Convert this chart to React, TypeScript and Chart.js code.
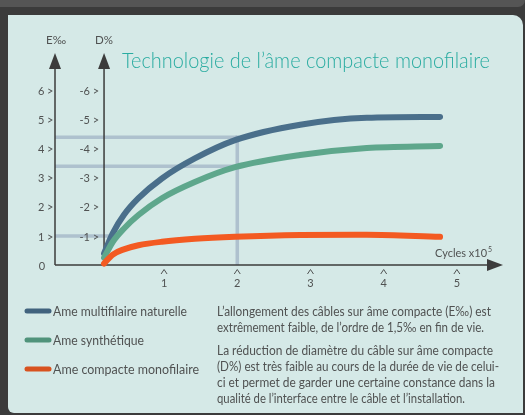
import React, { useEffect, useRef } from "react";
import { Chart, registerables } from "chart.js";

Chart.register(...registerables);

// ---------- data ----------
const TITLE = "Technologie de l’âme compacte monofilaire";
const SERIES_NAMES = ["Ame multifilaire naturelle", "Ame synthétique", "Ame compacte monofilaire"];
const CYCLES = [0.18, 0.3, 0.45, 0.65, 0.97, 1.42, 1.97, 2.86, 3.77, 4.77];
const MULTIFILAIRE = [0.4, 1.1, 1.72, 2.3, 2.98, 3.67, 4.3, 4.83, 5.07, 5.1];
const SYNTHETIQUE = [0.25, 0.8, 1.25, 1.72, 2.3, 2.86, 3.37, 3.79, 4.03, 4.1];
const COMPACTE = [0.05, 0.36, 0.54, 0.68, 0.8, 0.9, 0.97, 1.03, 1.04, 0.97];
const Y_TICKS = [1, 2, 3, 4, 5, 6];
const X_TICKS = [1, 2, 3, 4, 5];
const GUIDE_LEVELS = [4.4, 3.4, 1];
const GUIDE_ENDS = [2, 2, 0.26];
const D_AXIS_AT = 0.18;
const E_AXIS_LABEL = "E‰";
const D_AXIS_LABEL = "D%";
const X_AXIS_LABEL = "Cycles x10";
const X_AXIS_EXP = "5";
const NOTE_1 = [
  "L’allongement des câbles sur âme compacte (E‰) est",
  "extrêmement faible, de l’ordre de 1,5‰ en fin de vie.",
];
const NOTE_2 = [
  "La réduction de diamètre du câble sur âme compacte",
  "(D%) est très faible au cours de la durée de vie de celui-",
  "ci et permet de garder une certaine constance dans la",
  "qualité de l’interface entre le câble et l’installation.",
];

// ---------- styles ----------
const SERIES_COLORS = ["#4a6f8b", "#5ea78c", "#f35a22"];
const LEGEND_COLORS = ["#41637e", "#50937b", "#d8521f"];
const TEXT_COLOR = "#505252";
const AXIS_COLOR = "#3c3c3c";
const GUIDE_COLOR = "rgba(150,168,190,0.62)";
const TITLE_COLOR = "#2aaca1";
const FONT = "Lato, 'Open Sans', sans-serif";
const X_MIN = -0.49;
const X_MAX = 5.63;
const Y_MAX = 7.3;

function fitText(ctx: CanvasRenderingContext2D, text: string, x: number, y: number, width: number) {
  const w = ctx.measureText(text).width;
  const s = width / w;
  ctx.save();
  ctx.translate(x, y);
  ctx.scale(s, 1);
  ctx.textAlign = "left";
  ctx.fillText(text, 0, 0);
  ctx.restore();
}

function arrow(ctx: CanvasRenderingContext2D, tipX: number, tipY: number, dir: "up" | "right") {
  ctx.beginPath();
  if (dir === "up") {
    ctx.moveTo(tipX, tipY);
    ctx.lineTo(tipX - 6, tipY + 16);
    ctx.lineTo(tipX + 6, tipY + 16);
  } else {
    ctx.moveTo(tipX, tipY);
    ctx.lineTo(tipX - 16, tipY - 6);
    ctx.lineTo(tipX - 16, tipY + 6);
  }
  ctx.closePath();
  ctx.fill();
}

const decorPlugin = {
  id: "decor",
  beforeDatasetsDraw(chart: any) {
    const { ctx, chartArea } = chart;
    const x = chart.scales.x;
    const y = chart.scales.y;
    const y0 = y.getPixelForValue(0);
    const xE = x.getPixelForValue(X_MIN);
    const xD = x.getPixelForValue(D_AXIS_AT);
    ctx.save();
    // guides
    ctx.strokeStyle = GUIDE_COLOR;
    ctx.lineWidth = 3.5;
    GUIDE_LEVELS.forEach((lv, i) => {
      ctx.beginPath();
      ctx.moveTo(xE, y.getPixelForValue(lv));
      ctx.lineTo(x.getPixelForValue(GUIDE_ENDS[i]), y.getPixelForValue(lv));
      ctx.stroke();
    });
    ctx.beginPath();
    ctx.moveTo(x.getPixelForValue(GUIDE_ENDS[0]), y.getPixelForValue(GUIDE_LEVELS[0]) - 1.75);
    ctx.lineTo(x.getPixelForValue(GUIDE_ENDS[0]), y0);
    ctx.stroke();

    // axes
    ctx.strokeStyle = AXIS_COLOR;
    ctx.fillStyle = AXIS_COLOR;
    ctx.lineWidth = 1.5;
    const top = chartArea.top;
    ctx.beginPath();
    ctx.moveTo(xE, y0);
    ctx.lineTo(xE, top + 10);
    ctx.moveTo(xD, y0);
    ctx.lineTo(xD, top + 10);
    ctx.moveTo(xE, y0);
    ctx.lineTo(chartArea.right - 10, y0);
    ctx.stroke();
    arrow(ctx, xE, top, "up");
    arrow(ctx, xD, top, "up");
    arrow(ctx, chartArea.right, y0, "right");

    // y tick labels
    ctx.fillStyle = TEXT_COLOR;
    ctx.font = `11px ${FONT}`;
    ctx.textBaseline = "middle";
    ctx.textAlign = "right";
    Y_TICKS.forEach((v) => {
      const py = y.getPixelForValue(v) + 1;
      ctx.fillText(`${v} >`, xE - 1.5, py);
      ctx.fillText(`-${v} >`, xD - 5, py);
    });
    ctx.textAlign = "center";
    ctx.fillText("0", xE - 13, y0 + 1);

    // x ticks
    ctx.strokeStyle = TEXT_COLOR;
    ctx.lineWidth = 1;
    X_TICKS.forEach((v) => {
      const px = x.getPixelForValue(v);
      ctx.beginPath();
      ctx.moveTo(px - 3, y0 + 9);
      ctx.lineTo(px, y0 + 4.5);
      ctx.lineTo(px + 3, y0 + 9);
      ctx.stroke();
      ctx.fillText(String(v), px, y0 + 18);
    });

    // x axis title
    ctx.textAlign = "left";
    ctx.font = `11px ${FONT}`;
    const cx = chartArea.right - 68;
    fitText(ctx, X_AXIS_LABEL, cx, y0 - 12, 52);
    ctx.font = `7px ${FONT}`;
    ctx.fillText(X_AXIS_EXP, cx + 53, y0 - 15.5);

    // y axis titles
    ctx.font = `11.5px ${FONT}`;
    ctx.textAlign = "center";
    ctx.fillText(E_AXIS_LABEL, xE + 1, 40);
    ctx.fillText(D_AXIS_LABEL, xD, 40);

    // title
    ctx.font = `300 21px ${FONT}`;
    ctx.fillStyle = TITLE_COLOR;
    ctx.textBaseline = "alphabetic";
    fitText(ctx, TITLE, 122, 68, 368);
    ctx.restore();
  },
  afterDraw(chart: any) {
    const { ctx } = chart;
    ctx.save();
    // legend
    const legendY = [311, 340, 369];
    const legendW = [134, 91, 146];
    SERIES_NAMES.forEach((name, i) => {
      ctx.strokeStyle = LEGEND_COLORS[i];
      ctx.lineWidth = 5;
      ctx.lineCap = "round";
      ctx.beginPath();
      ctx.moveTo(27, legendY[i]);
      ctx.lineTo(49, legendY[i]);
      ctx.stroke();
      ctx.fillStyle = TEXT_COLOR;
      ctx.font = `12.5px ${FONT}`;
      ctx.textBaseline = "alphabetic";
      fitText(ctx, name, 53, legendY[i] + 4.5, legendW[i]);
    });
    // notes
    const w1 = [274, 267];
    const w2 = [276, 282, 278, 248];
    ctx.font = `12.5px ${FONT}`;
    NOTE_1.forEach((t, i) => fitText(ctx, t, 217, 315.5 + i * 16, w1[i]));
    NOTE_2.forEach((t, i) => fitText(ctx, t, 217, 354.5 + i * 16, w2[i]));
    ctx.restore();
  },
};

export default function App() {
  const ref = useRef<HTMLCanvasElement>(null);
  useEffect(() => {
    const series = [MULTIFILAIRE, SYNTHETIQUE, COMPACTE];
    const chart = new Chart(ref.current as HTMLCanvasElement, {
      type: "line",
      data: {
        datasets: series.map((vals, i) => ({
          label: SERIES_NAMES[i],
          data: CYCLES.map((c, j) => ({ x: c, y: vals[j] })),
          borderColor: SERIES_COLORS[i],
          backgroundColor: SERIES_COLORS[i],
          borderWidth: 6,
          borderCapStyle: "round",
          borderJoinStyle: "round",
          cubicInterpolationMode: "monotone",
          pointRadius: 0,
          fill: false,
          clip: false,
          order: 3 - i,
        })),
      } as any,
      options: {
        responsive: false,
        animation: false,
        devicePixelRatio: 1,
        events: [],
        layout: { padding: { left: 55, right: 22, top: 53, bottom: 150 } },
        plugins: {
          legend: { display: false },
          tooltip: { enabled: false },
          title: { display: false },
        },
        scales: {
          x: { type: "linear", min: X_MIN, max: X_MAX, display: false },
          y: { type: "linear", min: 0, max: Y_MAX, display: false },
        },
      } as any,
      plugins: [decorPlugin],
    });
    return () => chart.destroy();
  }, []);

  return (
    <div style={{ position: "fixed", left: 0, top: 0, width: 525, height: 415, background: "#3b3b3b", overflow: "hidden" }}>
      <div style={{ position: "absolute", left: 0, top: 0, width: 525, height: 7, background: "#555555", borderBottomRightRadius: 8 }} />
      <div
        style={{
          position: "absolute",
          left: 8,
          top: 15,
          width: 515,
          height: 398,
          background: "#d5e9e7",
          borderTopRightRadius: 10,
          borderBottomLeftRadius: 6,
        }}
      />
      <canvas ref={ref} width={525} height={415} style={{ position: "absolute", left: 0, top: 0, width: 525, height: 415 }} />
    </div>
  );
}
